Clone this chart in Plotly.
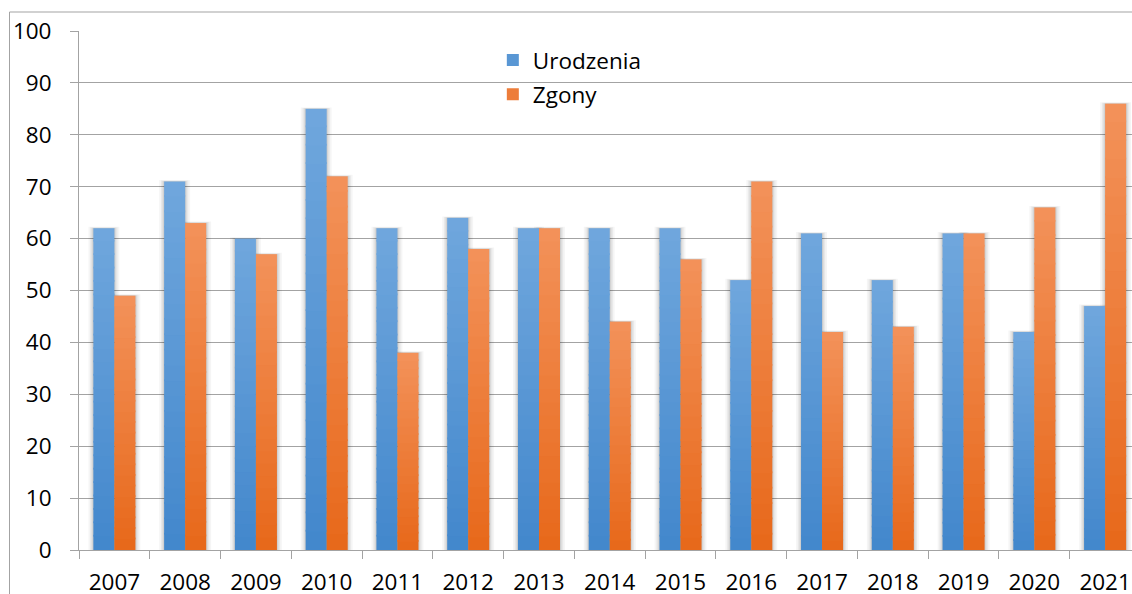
import plotly.graph_objects as go

years = ["2007", "2008", "2009", "2010", "2011", "2012", "2013", "2014",
         "2015", "2016", "2017", "2018", "2019", "2020", "2021"]
urodzenia = [62, 71, 60, 85, 62, 64, 62, 62, 62, 52, 61, 52, 61, 42, 47]
zgony = [49, 63, 57, 72, 38, 58, 62, 44, 56, 71, 42, 43, 61, 66, 86]

BLUE_BOTTOM, BLUE_TOP = (66, 135, 204), (112, 167, 221)
ORANGE_BOTTOM, ORANGE_TOP = (231, 104, 26), (243, 146, 90)
FONT = "Open Sans"
GRID = "#a3a3a3"

W = 0.297  # bar width in category units
K = 24     # gradient steps

def mix(a, b, t):
    return "rgb(%d,%d,%d)" % tuple(round(a[i] + (b[i] - a[i]) * t) for i in range(3))

fig = go.Figure()

# soft shadows (mostly at the sides)
for vals, off in ((urodzenia, -W), (zgony, 0.0)):
    for pad, alpha in ((0.07, 0.04), (0.045, 0.05), (0.025, 0.06), (0.01, 0.07)):
        fig.add_trace(go.Bar(
            x=years, y=[v + pad * 4 for v in vals], offset=off - pad, width=W + 2 * pad,
            marker=dict(color="rgba(0,0,0,%.3f)" % alpha, line=dict(width=0)),
            showlegend=False, hoverinfo="skip"))

# gradient bars
for vals, off, c0, c1, name in ((urodzenia, -W, BLUE_BOTTOM, BLUE_TOP, "Urodzenia"),
                                (zgony, 0.0, ORANGE_BOTTOM, ORANGE_TOP, "Zgony")):
    for k in range(K):
        extra = 0.35 if k < K - 1 else 0.0
        fig.add_trace(go.Bar(
            x=years, y=[v / K + extra for v in vals], base=[v * k / K for v in vals],
            offset=off, width=W,
            marker=dict(color=mix(c0, c1, (k + 0.5) / K), line=dict(width=0)),
            showlegend=False, legendgroup=name, hoverinfo="skip"))
    # legend entry
    fig.add_trace(go.Bar(
        x=[None], y=[None], name=name, legendgroup=name,
        marker=dict(color=mix(c0, c1, 0.5), line=dict(width=0))))

fig.update_layout(
    width=1132, height=594,
    margin=dict(l=79, r=0, t=31, b=44),
    barmode="overlay",
    plot_bgcolor="white", paper_bgcolor="white",
    font=dict(family=FONT, size=22, color="black"),
    showlegend=True,
    legend=dict(x=0.393, y=0.985, xanchor="left", yanchor="top",
                font=dict(family=FONT, size=22.5), traceorder="grouped",
                tracegroupgap=2, bgcolor="rgba(0,0,0,0)"),
    xaxis=dict(range=[-0.5, 14.38], showline=True, linecolor=GRID, linewidth=1,
               ticks="outside", tickson="boundaries", ticklen=8, tickcolor=GRID,
               showgrid=False, tickfont=dict(size=22.5), ticklabelstandoff=12,
               automargin=False),
    yaxis=dict(range=[0, 100], dtick=10, showline=True, linecolor=GRID, linewidth=1,
               ticks="outside", ticklen=8, tickcolor=GRID, gridcolor=GRID,
               gridwidth=1, zeroline=False, tickfont=dict(size=22.5),
               ticklabelstandoff=14, automargin=False),
    shapes=[dict(type="rect", xref="paper", yref="paper", x0=-0.066, x1=1.05,
                 y0=-0.2, y1=1.0366, line=dict(color=GRID, width=1),
                 fillcolor="rgba(0,0,0,0)", layer="below")],
)

fig.write_html("out.html", config={"displayModeBar": False},
               post_script="document.body.style.margin='0';"
                           "document.documentElement.style.overflow='hidden';")
